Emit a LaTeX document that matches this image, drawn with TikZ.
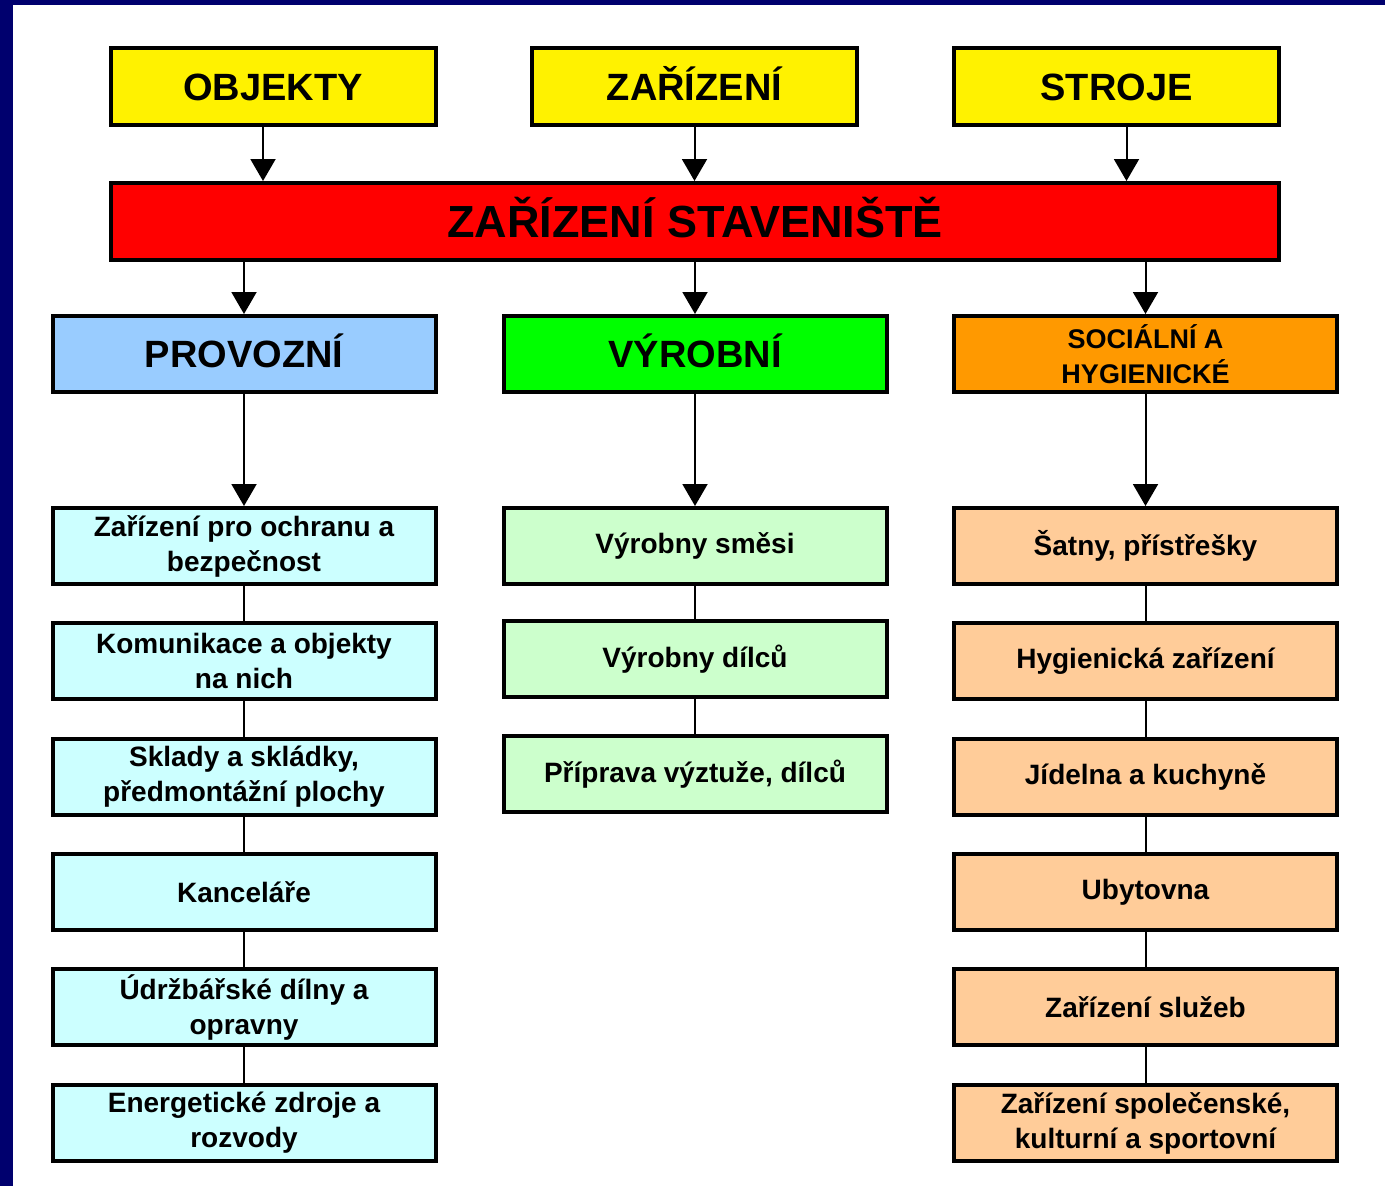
\documentclass[tikz,border=0pt]{standalone}
\usepackage{fontspec}
\setmainfont{Liberation Sans}
\usetikzlibrary{arrows.meta}

\definecolor{ramec}{RGB}{0,0,110}
\definecolor{modra}{RGB}{153,204,255}
\definecolor{oranzova}{RGB}{255,153,0}
\definecolor{azurova}{RGB}{204,255,255}
\definecolor{zelena}{RGB}{204,255,204}
\definecolor{broskev}{RGB}{255,204,153}

\begin{document}
\begin{tikzpicture}[x=1pt,y=-1pt,
    box/.style={draw=black,line width=4pt,align=center,inner sep=2pt,minimum width=383pt,minimum height=76pt},
    topbox/.style={box,fill=yellow,minimum width=325pt,minimum height=77pt,
      font=\fontsize{38}{46}\selectfont\bfseries,text height=27pt,text depth=0pt},
    groupbox/.style={box,font=\fontsize{38}{46}\selectfont\bfseries,text height=27pt,text depth=0pt},
    itembox/.style={box,font=\fontsize{28}{35}\selectfont\bfseries},
    link/.style={line width=2pt},
    arr/.style={link,-{Triangle[width=25pt,length=22pt]}}]
        \def\xl{244} \def\xm{695} \def\xr{1145.5}

        \useasboundingbox (0,0) rectangle (1385,1186);
        \fill[ramec] (0,0) rectangle (1385,5);
        \fill[ramec] (0,0) rectangle (13,1186);

        % horni rada
        \node[topbox] (objekty) at (273,86.5) {OBJEKTY};
        \node[topbox] (zarizeni) at (694.5,86.5) {ZAŘÍZENÍ};
        \node[topbox] (stroje) at (1116.5,86.5) {STROJE};

        \node[box,fill=red,minimum width=1168pt,minimum height=77pt,
          font=\fontsize{45}{54}\selectfont\bfseries,text height=32pt,text depth=0pt]
          (stav) at (695,221.5) {ZAŘÍZENÍ STAVENIŠTĚ};

        % skupiny
        \node[groupbox,fill=modra] (provozni) at (\xl,354) {PROVOZNÍ};
        \node[groupbox,fill=green] (vyrobni) at (\xm,354) {VÝROBNÍ};
        \node[box,fill=oranzova,font=\fontsize{27}{35}\selectfont\bfseries] (socialni) at (\xr,354) {SOCIÁLNÍ A\\HYGIENICKÉ};

        % provozni
        \node[itembox,fill=azurova] (p1) at (\xl,546) {Zařízení pro ochranu a\\bezpečnost};
        \node[itembox,fill=azurova] (p2) at (\xl,661) {Komunikace a objekty\\na nich};
        \node[itembox,fill=azurova] (p3) at (\xl,777) {Sklady a skládky,\\předmontážní plochy};
        \node[itembox,fill=azurova] (p4) at (\xl,892) {Kanceláře};
        \node[itembox,fill=azurova] (p5) at (\xl,1007) {Údržbářské dílny a\\opravny};
        \node[itembox,fill=azurova] (p6) at (\xl,1123) {Energetické zdroje a\\rozvody};

        % vyrobni
        \node[itembox,fill=zelena] (v1) at (\xm,546) {Výrobny směsi};
        \node[itembox,fill=zelena] (v2) at (\xm,659) {Výrobny dílců};
        \node[itembox,fill=zelena] (v3) at (\xm,774) {Příprava výztuže, dílců};

        % socialni a hygienicke
        \node[itembox,fill=broskev] (s1) at (\xr,546) {Šatny, přístřešky};
        \node[itembox,fill=broskev] (s2) at (\xr,661) {Hygienická zařízení};
        \node[itembox,fill=broskev] (s3) at (\xr,777) {Jídelna a kuchyně};
        \node[itembox,fill=broskev] (s4) at (\xr,892) {Ubytovna};
        \node[itembox,fill=broskev] (s5) at (\xr,1007) {Zařízení služeb};
        \node[itembox,fill=broskev] (s6) at (\xr,1123) {Zařízení společenské,\\kulturní a sportovní};

        % sipky
        \coordinate (o1) at ([xshift=-10pt]objekty.south);
        \coordinate (o3) at ([xshift=10pt]stroje.south);
        \draw[arr] (o1) -- (o1 |- stav.north);
        \draw[arr] (zarizeni.south) -- (zarizeni.south |- stav.north);
        \draw[arr] (o3) -- (o3 |- stav.north);

        \draw[arr] (stav.south -| provozni) -- (provozni.north);
        \draw[arr] (stav.south -| vyrobni) -- (vyrobni.north);
        \draw[arr] (stav.south -| socialni) -- (socialni.north);

        \draw[arr] (provozni) -- (p1);
        \draw[arr] (vyrobni) -- (v1);
        \draw[arr] (socialni) -- (s1);

        \foreach \a/\b in {p1/p2,p2/p3,p3/p4,p4/p5,p5/p6,v1/v2,v2/v3,s1/s2,s2/s3,s3/s4,s4/s5,s5/s6}
          \draw[link] (\a) -- (\b);
      \end{tikzpicture}
\end{document}
